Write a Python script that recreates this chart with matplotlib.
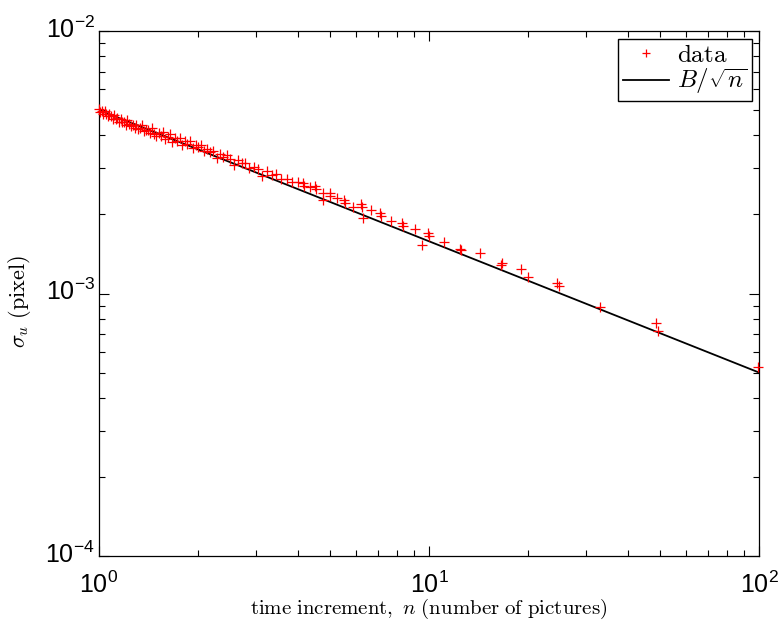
import matplotlib
matplotlib.use("Agg")
import matplotlib.pyplot as plt
from matplotlib.ticker import LogLocator, NullFormatter
from matplotlib.transforms import ScaledTranslation

# ---- data ----
n_dense = [1.000, 1.010, 1.020, 1.031, 1.042, 1.053, 1.064, 1.075, 1.087, 1.099,
           1.111, 1.124, 1.136, 1.149, 1.163, 1.176, 1.190, 1.205, 1.220, 1.235,
           1.250, 1.266, 1.282, 1.299, 1.316, 1.333, 1.351, 1.370, 1.389, 1.408,
           1.429, 1.449, 1.471, 1.493, 1.515, 1.538, 1.563, 1.587, 1.613, 1.639,
           1.667, 1.695, 1.724, 1.754, 1.786, 1.818, 1.852, 1.887, 1.923, 1.961,
           2.000, 2.041, 2.083, 2.128, 2.174, 2.222, 2.273, 2.326, 2.381, 2.439,
           2.500, 2.564, 2.632, 2.703, 2.778, 2.857, 2.941, 3.030, 3.125, 3.226,
           3.333, 3.448, 3.571, 3.704, 3.846, 4.000]
sigma_dense = [5.050, 4.925, 4.950, 4.827, 4.948, 4.824, 4.727, 4.822, 4.724, 4.627,
               4.767, 4.623, 4.643, 4.501, 4.637, 4.495, 4.514, 4.396, 4.573, 4.410,
               4.338, 4.400, 4.261, 4.388, 4.250, 4.265, 4.387, 4.144, 4.201, 4.213,
               4.078, 4.257, 4.061, 3.970, 4.103, 3.991, 4.120, 3.890, 3.937, 4.042,
               3.776, 3.918, 3.808, 3.926, 3.686, 3.819, 3.711, 3.804, 3.570, 3.678,
               3.607, 3.675, 3.481, 3.548, 3.459, 3.505, 3.284, 3.410, 3.321, 3.362,
               3.257, 3.075, 3.221, 3.147, 3.150, 3.017, 3.046, 2.988, 2.800, 2.923,
               2.835, 2.841, 2.725, 2.728, 2.652, 2.650]
n_sparse = [4.14, 4.17, 4.35, 4.52, 4.55, 4.76, 4.78, 5.00, 5.02, 5.26, 5.52, 5.56,
            5.88, 6.21, 6.25, 6.33, 6.67, 7.10, 7.14, 7.69, 8.28, 8.33, 9.09,
            9.50, 9.96, 10.0, 11.1, 12.4, 12.5, 14.3, 16.5, 16.67, 19.0, 19.9,
            24.5, 24.7, 33.0, 48.7, 49.5, 99.6]
sigma_sparse = [2.629, 2.567, 2.538, 2.567, 2.494, 2.421, 2.271, 2.408, 2.351, 2.304,
                2.271, 2.217, 2.130, 2.193, 2.141, 1.934, 2.080, 2.020, 1.973, 1.893,
                1.861, 1.807, 1.756, 1.530, 1.704, 1.656, 1.576, 1.480, 1.470, 1.423,
                1.284, 1.303, 1.236, 1.152, 1.096, 1.068, 0.889, 0.772, 0.720, 0.525]
B = 5.0e-3
n_fit = [1.0, 100.0]

# ---- figure ----
plt.rcParams['font.family'] = ['Liberation Sans', 'DejaVu Sans']
plt.rcParams['mathtext.fontset'] = 'dejavusans'

fig = plt.figure(figsize=(7.82, 6.32), dpi=100)
ax = fig.add_axes([99 / 782, 1 - 556 / 632, 660 / 782, 525 / 632])

n_all = n_dense + n_sparse
sigma_all = [s * 1e-3 for s in sigma_dense + sigma_sparse]
fit_vals = [B / (v ** 0.5) for v in n_fit]

ax.plot(n_all, sigma_all, linestyle='none', marker='+', color='#ff0000',
        markersize=7, markeredgewidth=0.9, label=r'$\mathrm{data}$', clip_on=False,
        zorder=3)
ax.plot(n_fit, fit_vals, color='black', linewidth=1.3, label=r'$B/\sqrt{n}$', zorder=2)

ax.set_xscale('log')
ax.set_yscale('log')
ax.set_xlim(1, 100)
ax.set_ylim(1e-4, 1e-2)

ax.xaxis.set_major_locator(LogLocator(base=10, numticks=10))
ax.yaxis.set_major_locator(LogLocator(base=10, numticks=10))
ax.xaxis.set_minor_locator(LogLocator(base=10, subs=range(2, 10), numticks=20))
ax.yaxis.set_minor_locator(LogLocator(base=10, subs=range(2, 10), numticks=20))
ax.xaxis.set_minor_formatter(NullFormatter())
ax.yaxis.set_minor_formatter(NullFormatter())

ax.tick_params(which='both', direction='in', top=True, right=True, width=0.8)
ax.tick_params(which='major', length=7, labelsize=18)
ax.tick_params(axis='y', which='major', pad=3)
ax.tick_params(axis='x', which='major', pad=11)
ax.tick_params(which='minor', length=4)
for sp in ax.spines.values():
    sp.set_linewidth(0.9)

# raise y tick labels so the base "10" sits on the tick
for lab in ax.get_yticklabels():
    lab.set_transform(lab.get_transform() + ScaledTranslation(0, 3 / 72, fig.dpi_scale_trans))

xl = ax.set_xlabel(r'$\mathrm{time\ increment,\ }n\ \mathrm{(number\ of\ pictures)}$',
                   fontsize=15)
xl.set_math_fontfamily('cm')
ax.xaxis.set_label_coords(0.5, -0.078)
yl = ax.set_ylabel(r'$\sigma_u\ \mathrm{(pixel)}$', fontsize=16)
yl.set_math_fontfamily('cm')
ax.yaxis.set_label_coords(-0.1, 0.485)

leg = ax.legend(loc='upper right', fontsize=18, frameon=True, fancybox=False,
                edgecolor='black', framealpha=1, handlelength=1.85, handletextpad=0.3,
                borderpad=0.18, labelspacing=0.0, borderaxespad=0.3, markerscale=0.8)
leg.get_frame().set_linewidth(1.0)
for t in leg.get_texts():
    t.set_math_fontfamily('cm')

fig.savefig('out.png', dpi=100)
